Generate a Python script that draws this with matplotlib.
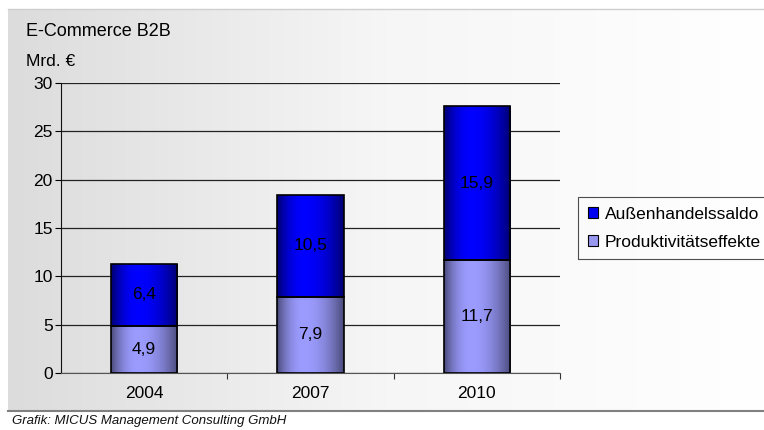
import numpy as np
import matplotlib
matplotlib.use('Agg')
import matplotlib.pyplot as plt
from matplotlib.patches import Patch

plt.rcParams['font.family'] = ['Liberation Sans', 'DejaVu Sans']

# E-Commerce B2B, Mrd. Euro
jahre = ['2004', '2007', '2010']
produktivitaet = [4.9, 7.9, 11.7]
aussenhandel = [6.4, 10.5, 15.9]
serien = ['Außenhandelssaldo', 'Produktivitätseffekte']

W, H = 764, 430
fig = plt.figure(figsize=(W / 100, H / 100), dpi=100)

# grey panel behind the chart, light to the right
bg = fig.add_axes([8 / W, 1 - 411 / H, 756 / W, 402 / H])
grad = np.linspace(0, 1, 256).reshape(1, -1)
bg.imshow(grad, cmap=matplotlib.colors.LinearSegmentedColormap.from_list(
    'bg', ['#dcdcdc', '#f6f6f6', '#ffffff']), aspect='auto', extent=[0, 1, 0, 1])
bg.set_xlim(0, 1)
bg.set_ylim(0, 1)
bg.axis('off')
bg.plot([0, 1], [0.999, 0.999], color='#cfcfcf', lw=1, transform=bg.transAxes, clip_on=False)
bg.plot([0, 1], [0.0, 0.0], color='#808080', lw=1.5, transform=bg.transAxes, clip_on=False)

ax = fig.add_axes([61 / W, 1 - 373 / H, 499 / W, 290 / H])
ax.set_facecolor('none')

x = np.arange(len(jahre))
b1 = ax.bar(x, produktivitaet, width=0.4, facecolor='none', edgecolor='black', lw=1.2, zorder=3)
b2 = ax.bar(x, aussenhandel, bottom=produktivitaet, width=0.4, facecolor='none',
            edgecolor='black', lw=1.2, zorder=3)


def shade(dark, light, n=200):
    # horizontal gradient: dark edges, brightest a bit left of centre
    t = np.linspace(0, 1, n)
    f = np.where(t < 0.4, 1 - ((0.4 - t) / 0.4) ** 2, 1 - ((t - 0.4) / 0.6) ** 2)
    dark = np.array(matplotlib.colors.to_rgb(dark))
    light = np.array(matplotlib.colors.to_rgb(light))
    return (dark[None, :] + (light - dark)[None, :] * f[:, None])[None, :, :]


for bars, dark, light in [(b1, '#4a4a7a', '#9c9cff'), (b2, '#00006e', '#0000ff')]:
    img = shade(dark, light)
    for p in bars:
        x0, y0 = p.get_x(), p.get_y()
        im = ax.imshow(img, aspect='auto', extent=[x0, x0 + p.get_width(), y0, y0 + p.get_height()],
                       zorder=2, interpolation='bilinear')
        im.set_clip_path(p)

for i in range(len(jahre)):
    ax.text(x[i], produktivitaet[i] / 2, f'{produktivitaet[i]:.1f}'.replace('.', ','),
            ha='center', va='center', fontsize=12.5, zorder=4)
    ax.text(x[i], produktivitaet[i] + aussenhandel[i] / 2, f'{aussenhandel[i]:.1f}'.replace('.', ','),
            ha='center', va='center', fontsize=12.5, zorder=4)

ax.set_xlim(-0.5, 2.5)
ax.set_ylim(0, 30)
ax.set_yticks(range(0, 31, 5))
ax.yaxis.grid(True, color='#222222', lw=0.9)
ax.set_axisbelow(True)
ax.set_xticks([0.5, 1.5, 2.5])
ax.set_xticklabels([])
ax.set_xticks(x, minor=True)
ax.set_xticklabels(jahre, minor=True)
ax.tick_params(axis='x', which='major', length=4, width=0.8, color='#333333')
ax.tick_params(axis='x', which='minor', length=0, pad=9, labelsize=12.5)
ax.tick_params(axis='y', length=4, width=0.8, labelsize=12.5, pad=2)
for s in ['top', 'right']:
    ax.spines[s].set_visible(False)
ax.spines['left'].set_color('#111111')
ax.spines['bottom'].set_color('#555555')

fig.text(26 / W, 1 - 32 / H, 'E-Commerce B2B', fontsize=13, va='center', ha='left')
fig.text(26 / W, 1 - 61 / H, 'Mrd. €', fontsize=12.5, va='center', ha='left')
fig.text(12 / W, 1 - 421 / H, 'Grafik: MICUS Management Consulting GmbH', fontsize=9.5,
         style='italic', va='center', ha='left', color='#111111')

handles = [Patch(facecolor='#0000f0', edgecolor='black', lw=0.8),
           Patch(facecolor='#9898f0', edgecolor='black', lw=0.8)]
leg = fig.legend(handles, serien, loc='upper left', bbox_to_anchor=(578 / W, 1 - 197 / H),
                 bbox_transform=fig.transFigure, fontsize=12.5, frameon=True, fancybox=False,
                 handlelength=0.6, handleheight=0.6, handletextpad=0.4, borderpad=0.55,
                 labelspacing=0.75, borderaxespad=0)
leg.get_frame().set_edgecolor('#222222')
leg.get_frame().set_linewidth(0.8)
leg.get_frame().set_facecolor('none')

fig.savefig('out.png', dpi=100)
